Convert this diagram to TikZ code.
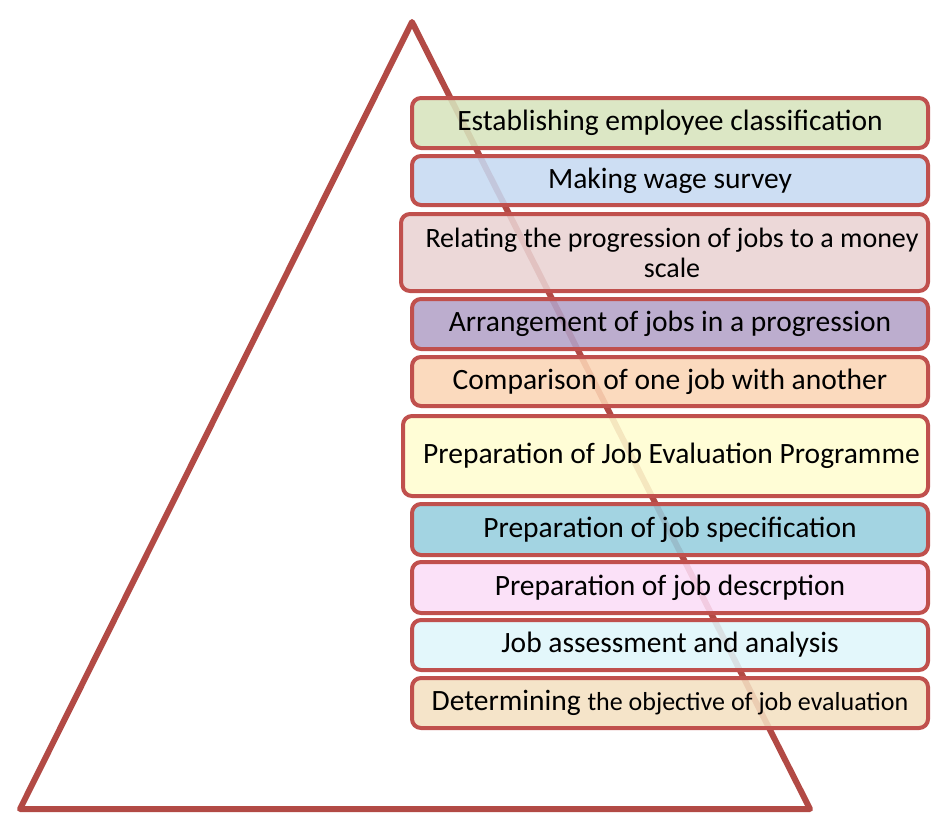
\documentclass[tikz,border=0pt]{standalone}
\usepackage{fontspec}
\setmainfont{Carlito}
\usetikzlibrary{positioning}
\definecolor{frameRed}{HTML}{C0504D}
\definecolor{pyramidRed}{HTML}{B24A45}
\tikzset{
    stageBox/.style={
		draw=frameRed, line width=4pt, rounded corners=9pt,
		fill opacity=0.88, text opacity=1,
		minimum width=516pt, minimum height=50pt, inner sep=0pt,
		align=center, font=\fontsize{29.5}{30}\selectfont
	}
}

\begin{document}
\begin{tikzpicture}[x=1pt,y=-1pt]
        \path[use as bounding box] (0,0) rectangle (931,816);
        % pyramid behind the stages
        \draw[pyramidRed, line width=6pt, line join=round] (412,22) -- (20,809) -- (810,809) -- cycle;
        \node[stageBox, fill={rgb,255:red,215;green,228;blue,189}] (classification) at (670,123) {Establishing employee classification};
        \node[stageBox, fill={rgb,255:red,198;green,217;blue,241}, minimum height=49pt] (wageSurvey) at (670,180.5) {Making wage survey};
        \node[stageBox, fill={rgb,255:red,233;green,211;blue,211}, minimum width=527pt, minimum height=77pt, font=\fontsize{28}{30}\selectfont] (moneyScale) at (664.5,252.5) {\hspace*{15pt}Relating the progression of jobs to a money\\\hspace*{15pt}scale};
        \node[stageBox, fill={rgb,255:red,179;green,162;blue,199}] (progression) at (670,324) {Arrangement of jobs in a progression};
        \node[stageBox, fill={rgb,255:red,251;green,213;blue,181}, minimum height=49pt] (comparison) at (670,381.5) {Comparison of one job with another};
        \node[stageBox, fill={rgb,255:red,255;green,253;blue,208}, minimum width=525pt, minimum height=80pt] (programme) at (665.5,456) {\hspace*{12pt}Preparation of Job Evaluation Programme};
        \node[stageBox, fill={rgb,255:red,150;green,206;blue,222}, minimum height=51pt] (specification) at (670,529.5) {Preparation of job specification};
        \node[stageBox, fill={rgb,255:red,251;green,221;blue,247}, minimum height=51pt] (description) at (670,587.5) {Preparation of job descrption};
        \node[stageBox, fill={rgb,255:red,223;green,246;blue,251}] (assessment) at (670,645) {Job assessment and analysis};
        \node[stageBox, fill={rgb,255:red,244;green,224;blue,194}] (objective) at (670,703) {Determining {\fontsize{26}{30}\selectfont the objective of job evaluation}};
      \end{tikzpicture}
\end{document}
